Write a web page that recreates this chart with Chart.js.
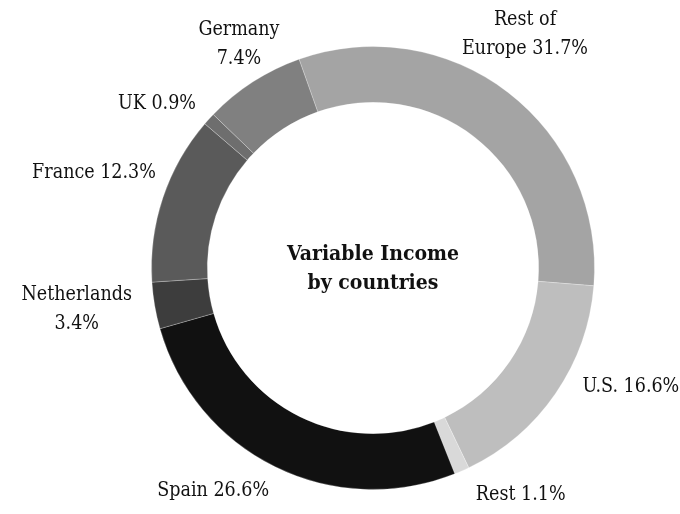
<!DOCTYPE html>
<html>
<head>
<meta charset="utf-8">
<script src="https://cdn.jsdelivr.net/npm/chart.js@4/dist/chart.umd.min.js"></script>
<style>
  html, body { margin: 0; padding: 0; background: #fff; }
  #wrap { width: 680px; height: 514px; position: relative; }
</style>
</head>
<body>
<div id="wrap"><canvas id="c"></canvas></div>
<script>
// Share of variable income by country (%)
const countries = ['Rest of Europe', 'U.S.', 'Rest', 'Spain', 'Netherlands', 'France', 'UK', 'Germany'];
const shares = [31.7, 16.6, 1.1, 26.6, 3.4, 12.3, 0.9, 7.4];
const shades = ['#a4a4a4', '#bebebe', '#d9d9d9', '#111111', '#3d3d3d', '#5a5a5a', '#6e6e6e', '#808080'];
const centerTitle = ['Variable Income', 'by countries'];

const FONT = '"DejaVu Serif Condensed", "DejaVu Serif", serif';

// Label text lines, alignment and nudge from the arc's outer midpoint
const labelLayout = [
  { lines: (n, v) => ['Rest of', 'Europe ' + v + '%'], align: 'center', dx: 17, dy: -58 },
  { lines: (n, v) => [n + ' ' + v + '%'], align: 'left', dx: 27, dy: -7 },
  { lines: (n, v) => [n + ' ' + v + '%'], align: 'left', dx: 14, dy: 24 },
  { lines: (n, v) => [n + ' ' + v + '%'], align: 'right', dx: -6, dy: 24 },
  { lines: (n, v) => [n, v + '%'], align: 'center', dx: -78, dy: 4 },
  { lines: (n, v) => [n + ' ' + v + '%'], align: 'right', dx: -7, dy: -25 },
  { lines: (n, v) => [n + ' ' + v + '%'], align: 'right', dx: -13, dy: -15 },
  { lines: (n, v) => [n, v + '%'], align: 'center', dx: -14, dy: -37 }
];

const outsideLabels = {
  id: 'outsideLabels',
  afterDatasetsDraw(chart) {
    const ctx = chart.ctx;
    const meta = chart.getDatasetMeta(0);
    ctx.save();
    ctx.fillStyle = '#111';
    ctx.font = '19.5px ' + FONT;
    ctx.textBaseline = 'middle';
    meta.data.forEach((arc, i) => {
      const p = arc.getProps(['x', 'y', 'startAngle', 'endAngle', 'outerRadius'], true);
      const mid = (p.startAngle + p.endAngle) / 2;
      const bx = p.x + Math.cos(mid) * p.outerRadius;
      const by = p.y + Math.sin(mid) * p.outerRadius;
      const L = labelLayout[i];
      const lines = L.lines(countries[i], shares[i]);
      const lh = 29;
      const x = bx + L.dx;
      const y0 = by + L.dy - (lines.length - 1) * lh / 2;
      ctx.textAlign = L.align;
      lines.forEach((t, k) => ctx.fillText(t, x, y0 + k * lh));
    });
    // centre title
    const a = meta.data[0];
    ctx.font = 'bold 21px ' + FONT;
    ctx.textAlign = 'center';
    ctx.fillText(centerTitle[0], a.x, a.y - 13);
    ctx.fillText(centerTitle[1], a.x, a.y + 16);
    ctx.restore();
  }
};

new Chart(document.getElementById('c'), {
  type: 'doughnut',
  data: {
    labels: countries,
    datasets: [{
      data: shares,
      backgroundColor: shades,
      borderColor: 'rgba(255,255,255,0.25)',
      borderWidth: 1,
      hoverOffset: 0
    }]
  },
  options: {
    responsive: true,
    maintainAspectRatio: false,
    animation: false,
    cutout: '74.8%',
    rotation: -19.5,
    layout: { padding: { top: 46, bottom: 24, left: 151, right: 85 } },
    plugins: {
      legend: { display: false },
      tooltip: { enabled: false }
    }
  },
  plugins: [outsideLabels]
});
</script>
</body>
</html>
